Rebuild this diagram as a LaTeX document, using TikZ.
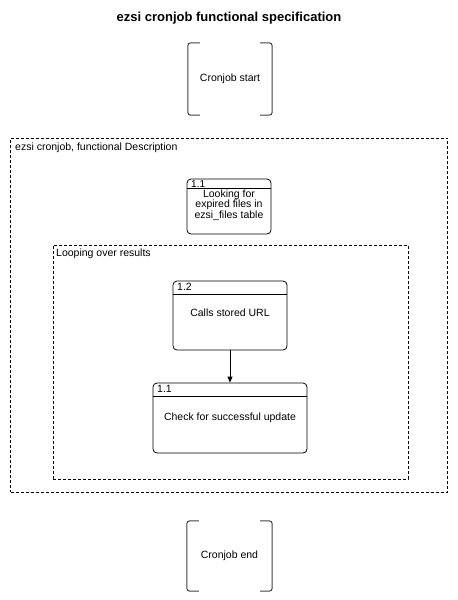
\documentclass[tikz,border=0pt]{standalone}
\usepackage{fontspec}
\setmainfont{Liberation Sans}
\usetikzlibrary{arrows.meta}
\begin{document}
\begin{tikzpicture}[x=1pt,y=-1pt,
  every node/.style={font=\fontsize{10.5}{12}\selectfont, inner sep=0pt},
  procbox/.style={draw=black, line width=0.8pt, rounded corners=4pt, rectangle},
  groupbox/.style={draw=black, dashed, line width=0.6pt, dash pattern=on 3pt off 2pt},
  bracketline/.style={draw=black!75, line width=1pt, rounded corners=3pt},
  hdr/.style={draw=black, line width=0.6pt},
  lbl/.style={anchor=north west},
  conn/.style={draw=black, line width=0.8pt, -{Triangle[length=6pt,width=5pt]}}]
\useasboundingbox (0,0) rectangle (458,600);

\node[font=\bfseries\fontsize{13}{15}\selectfont] (title) at (229,18) {ezsi cronjob functional specification};

% start terminator
\node[minimum width=84pt, minimum height=72pt] (start) at (230,79) {Cronjob start};
\path[bracketline] ([xshift=12pt]start.north west) -- (start.north west) -- (start.south west) -- ([xshift=12pt]start.south west);
\path[bracketline] ([xshift=-12pt]start.north east) -- (start.north east) -- (start.south east) -- ([xshift=-12pt]start.south east);

% outer group
\node[groupbox, minimum width=437pt, minimum height=354pt] (outer) at (229,315) {};
\node[lbl] (outerlbl) at (15,142.5) {ezsi cronjob, functional Description};

% box 1.1 top
\node[procbox, minimum width=84pt, minimum height=55pt] (b11) at (229,206.5) {};
\draw[hdr] ([yshift=-9.5pt]b11.north west) -- ([yshift=-9.5pt]b11.north east);
\node[lbl, font=\fontsize{10}{11}\selectfont] (b11n) at (191,180) {1.1};
\node[align=center, anchor=north, font=\fontsize{10.5}{10.6}\selectfont] (b11t) at (229,189.5) {Looking for\\expired files in\\ezsi\_files table};

% inner group
\node[groupbox, minimum width=355pt, minimum height=234pt] (inner) at (230.5,362) {};
\node[lbl] (innerlbl) at (56,249) {Looping over results};

% box 1.2
\node[procbox, minimum width=114pt, minimum height=69pt] (b12) at (230,315.5) {};
\draw[hdr] ([yshift=-14pt]b12.north west) -- ([yshift=-14pt]b12.north east);
\node[lbl] (b12n) at (177,283) {1.2};
\node (b12t) at (230,313) {Calls stored URL};

% box 1.1 bottom
\node[procbox, minimum width=154pt, minimum height=70pt] (b11b) at (230,418) {};
\draw[hdr] ([yshift=-14pt]b11b.north west) -- ([yshift=-14pt]b11b.north east);
\node[lbl] (b11bn) at (157,385) {1.1};
\node (b11bt) at (230,418) {Check for successful update};

\draw[conn] (b12.south) -- (b11b.north);

% end terminator
\node[minimum width=85pt, minimum height=70pt] (end) at (229.5,556) {Cronjob end};
\path[bracketline] ([xshift=12pt]end.north west) -- (end.north west) -- (end.south west) -- ([xshift=12pt]end.south west);
\path[bracketline] ([xshift=-12pt]end.north east) -- (end.north east) -- (end.south east) -- ([xshift=-12pt]end.south east);
\end{tikzpicture}
\end{document}
